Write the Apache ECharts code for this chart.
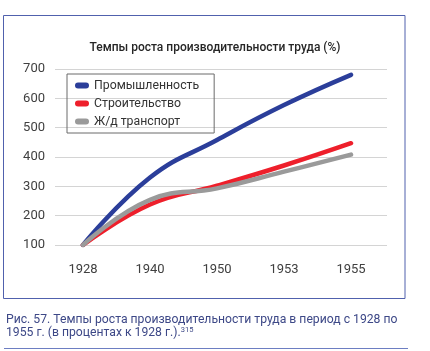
<!DOCTYPE html>
<html>
<head>
<meta charset="utf-8">
<script src="https://cdn.jsdelivr.net/npm/echarts@6/dist/echarts.min.js"></script>
<style>
  html, body { margin: 0; padding: 0; background: #fff; }
  #chart { width: 430px; height: 351px; }
</style>
</head>
<body>
<div id="chart"></div>
<script>
const years = ['1928', '1940', '1950', '1953', '1955']
const industry = [100, 330, 458, 577, 680]
const construction = [100, 238, 302, 371, 447]
const railway = [100, 254, 293, 350, 408]
const yTicks = { min: 100, max: 700, step: 100 }

const font = 'Roboto, "Noto Sans", sans-serif'
const pill = 'path://M3,0 L11,0 A3,3 0 0 1 11,6 L3,6 A3,3 0 0 1 3,0 Z'

function line(name, data, color) {
  return {
    name,
    type: 'line',
    xAxisIndex: 1,
    yAxisIndex: 1,
    smooth: 0.45,
    symbol: 'none',
    data,
    lineStyle: { color, width: 4.5, cap: 'round', join: 'round' },
    itemStyle: { color },
  }
}

const chart = echarts.init(document.getElementById('chart'))
chart.setOption({
  animation: false,
  textStyle: { fontFamily: font },
  title: {
    text: 'Темпы роста производительности труда (%)',
    left: 'center',
    top: 37,
    textStyle: { fontSize: 12, fontWeight: 500, color: '#262626', fontFamily: font },
  },
  legend: {
    orient: 'vertical',
    left: 67,
    top: 74,
    padding: [4, 15, 4, 8],
    itemGap: 3,
    itemWidth: 14,
    itemHeight: 6,
    icon: pill,
    borderColor: '#6b6b6b',
    borderWidth: 1,
    textStyle: { fontSize: 12.3, color: '#333', lineHeight: 15, fontFamily: font },
    data: ['Промышленность', 'Строительство', 'Ж/д транспорт'],
  },
  grid: [
    { left: 55, right: 43, top: 69, bottom: 106 },
    { left: 83, right: 79, top: 69, bottom: 106 },
  ],
  xAxis: [
    { gridIndex: 0, type: 'value', show: false, min: 0, max: 1 },
    {
      gridIndex: 1,
      type: 'category',
      boundaryGap: false,
      data: years,
      axisLine: { show: false },
      axisTick: { show: false },
      axisLabel: { color: '#404040', fontSize: 13, margin: 18, fontFamily: font },
    },
  ],
  yAxis: [
    {
      gridIndex: 0,
      type: 'value',
      min: yTicks.min,
      max: yTicks.max,
      interval: yTicks.step,
      axisLine: { show: false },
      axisTick: { show: false },
      axisLabel: { color: '#404040', fontSize: 13, margin: 10, fontFamily: font },
      splitLine: { lineStyle: { color: '#d4d4d4', width: 1 } },
    },
    {
      gridIndex: 1,
      type: 'value',
      min: yTicks.min,
      max: yTicks.max,
      interval: yTicks.step,
      show: false,
      splitLine: { show: false },
    },
  ],
  series: [
    line('Промышленность', industry, '#2b3e9a'),
    line('Строительство', construction, '#ee1f2b'),
    line('Ж/д транспорт', railway, '#9a9a9a'),
  ],
  graphic: [
    {
      type: 'rect',
      shape: { x: 3.5, y: 15.5, width: 401.5, height: 283 },
      style: { fill: 'none', stroke: '#5061ad', lineWidth: 1 },
      silent: true,
    },
    {
      type: 'text',
      left: 6,
      top: 313.5,
      style: {
        text: 'Рис. 57. Темпы роста производительности труда в период с 1928 по\n1955 г. (в процентах к 1928 г.).{sup|315}',
        fontFamily: font,
        fontSize: 12.2,
        lineHeight: 13,
        fill: '#3d4887',
        rich: {
          sup: { fontSize: 7.5, verticalAlign: 'top', lineHeight: 13, fill: '#3d4887', fontFamily: font },
        },
      },
    },
    {
      type: 'line',
      shape: { x1: 4, y1: 348.5, x2: 408, y2: 348.5 },
      style: { stroke: '#6d7ec2', lineWidth: 1 },
      silent: true,
    },
  ],
})
</script>
</body>
</html>
